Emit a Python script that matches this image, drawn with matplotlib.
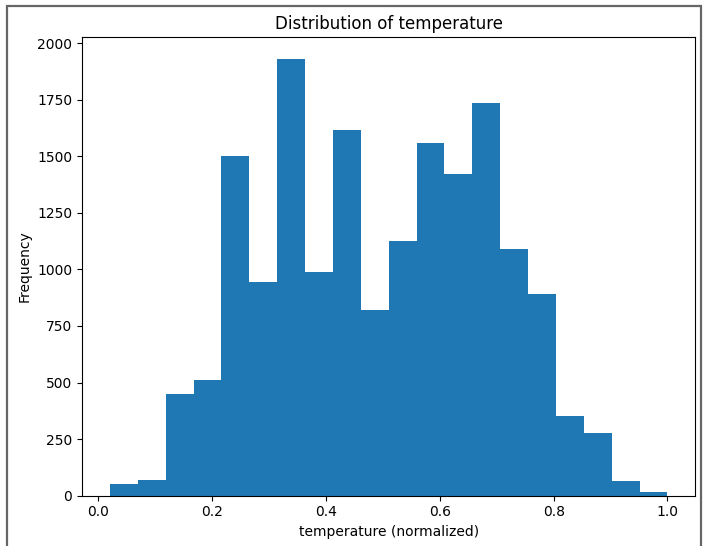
import matplotlib
matplotlib.use("Agg")
import matplotlib.pyplot as plt
import numpy as np
from matplotlib.patches import Rectangle

# Histogram data
bin_min = 0.02
bin_max = 1.0
n_bins = 20
counts = [50, 71, 448, 510, 1503, 943, 1929, 988, 1618, 821,
          1127, 1559, 1421, 1736, 1088, 890, 352, 277, 66, 18]

title = "Distribution of temperature"
xlabel = "temperature (normalized)"
ylabel = "Frequency"

edges = np.linspace(bin_min, bin_max, n_bins + 1)
centers = (edges[:-1] + edges[1:]) / 2

fig = plt.figure(figsize=(7.04, 5.46), dpi=100)
ax = fig.add_axes([82 / 704, 1 - 495.7 / 546, (695.3 - 82) / 704, (495.7 - 37.3) / 546])
ax.hist(centers, bins=edges, weights=counts, color="#1f77b4")
ax.set_title(title)
ax.set_xlabel(xlabel)
ax.set_ylabel(ylabel)

# screenshot frame around the figure
fig.patches.append(Rectangle((6.5 / 704, -0.05), (700.5 - 6.5) / 704, 1.05 - 6 / 546,
                             transform=fig.transFigure, fill=False,
                             edgecolor="#666666", linewidth=1.6, zorder=10))

fig.savefig("out.png", dpi=100)
